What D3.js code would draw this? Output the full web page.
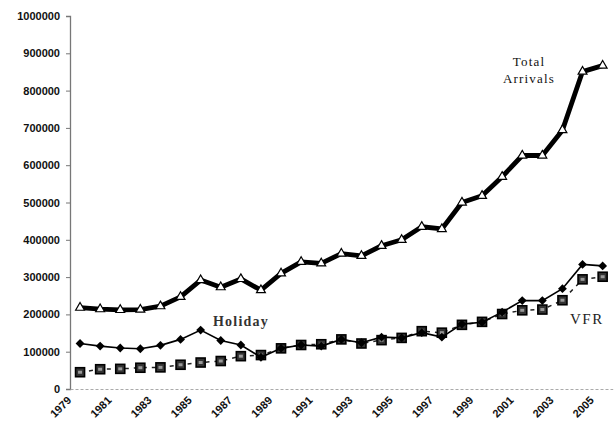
<!DOCTYPE html>
<html><head><meta charset="utf-8">
<script src="https://cdn.jsdelivr.net/npm/d3@7"></script>
<style>body{margin:0;background:#fff}svg{display:block}</style>
</head><body>
<script>
const years = d3.range(1979, 2006);
const totalArrivals = [218000,214000,212000,213000,222000,247000,292000,273000,295000,265000,310000,341000,337000,363000,357000,384000,400000,435000,429000,500000,518000,569000,626000,626000,694000,851000,867000];
const holiday = [122000,115000,110000,108000,117000,133000,158000,130000,118000,85000,109000,118000,115000,133000,124000,139000,137000,151000,139000,174000,179000,206000,237000,237000,269000,334000,330000];
const vfr = [45000,53000,54000,57000,58000,65000,71000,75000,88000,91000,109000,118000,120000,133000,122000,131000,137000,155000,151000,172000,180000,201000,211000,213000,238000,294000,301000];
const yTicks = [0,100000,200000,300000,400000,500000,600000,700000,800000,900000,1000000];
const xLabels = years.filter(y => (y - 1979) % 2 === 0);

const W = 614, H = 421;
const svg = d3.select("body").append("svg").attr("width", W).attr("height", H);

const x = d3.scaleBand().domain(years).range([70, 70 + 27 * 20.1]).padding(0);
const cx = d => x(d) + x.bandwidth() / 2;
const y = d3.scaleLinear().domain([0, 1000000]).range([389, 16]);

// Y axis
const yAxis = d3.axisLeft(y).tickValues(yTicks).tickSize(4).tickPadding(6).tickFormat(d3.format("d"));
const gy = svg.append("g").attr("transform", "translate(70,0)").call(yAxis);
gy.select(".domain").attr("stroke", "#777").attr("stroke-width", 1.3);
gy.selectAll(".tick line").attr("stroke", "#777");
gy.selectAll("text").attr("font-family", "Liberation Sans, Arial, sans-serif").attr("font-weight", "bold").attr("font-size", "11px").attr("fill", "#111");

// X axis
const xAxis = d3.axisBottom(x).tickValues(xLabels).tickSize(0).tickPadding(0);
const gx = svg.append("g").attr("transform", "translate(0,389)").call(xAxis);
gx.select(".domain").attr("stroke", "#aaa").attr("stroke-width", 1).attr("stroke-dasharray", "3,2");
gx.selectAll(".tick text")
  .attr("font-family", "Liberation Sans, Arial, sans-serif").attr("font-weight", "bold").attr("font-size", "11px").attr("fill", "#111")
  .attr("text-anchor", "end").attr("y", 0).attr("dy", 0)
  .attr("transform", "translate(-8,12) rotate(-45)");

const idx = years.map((d, i) => i);

// Total arrivals
const lineT = d3.line().x(i => cx(years[i])).y(i => y(totalArrivals[i]));
svg.append("path").attr("d", lineT(idx)).attr("fill", "none").attr("stroke", "#000").attr("stroke-width", 4.8).attr("stroke-linejoin", "round");
svg.selectAll(".tri").data(idx).enter().append("path")
  .attr("transform", i => `translate(${cx(years[i])},${y(totalArrivals[i])})`)
  .attr("d", d3.symbol().type(d3.symbolTriangle).size(34))
  .attr("fill", "#fff").attr("stroke", "#000").attr("stroke-width", 1.2);

// VFR
const lineV = d3.line().x(i => cx(years[i])).y(i => y(vfr[i]));
svg.append("path").attr("d", lineV(idx)).attr("fill", "none").attr("stroke", "#222").attr("stroke-width", 1.5).attr("stroke-dasharray", "4,5");
svg.selectAll(".sq").data(idx).enter().append("rect")
  .attr("x", i => cx(years[i]) - 4.5).attr("y", i => y(vfr[i]) - 4.5)
  .attr("width", 9).attr("height", 9)
  .attr("fill", "#333").attr("stroke", "#000").attr("stroke-width", 1.6);
svg.selectAll(".sqi").data(idx).enter().append("rect")
  .attr("x", i => cx(years[i]) - 2).attr("y", i => y(vfr[i]) - 1.5)
  .attr("width", 4).attr("height", 3)
  .attr("fill", "#999");

// Holiday
const lineH = d3.line().x(i => cx(years[i])).y(i => y(holiday[i]));
svg.append("path").attr("d", lineH(idx)).attr("fill", "none").attr("stroke", "#000").attr("stroke-width", 1.6);
svg.selectAll(".dia").data(idx).enter().append("path")
  .attr("transform", i => `translate(${cx(years[i])},${y(holiday[i])})`)
  .attr("d", d3.symbol().type(d3.symbolDiamond2).size(50))
  .attr("fill", "#000");

// Labels
const serif = "Liberation Serif, Times New Roman, serif";
const tl = svg.append("text").attr("font-family", serif).attr("font-size", "13px").attr("letter-spacing", "1.2px").attr("fill", "#111").attr("text-anchor", "middle");
tl.append("tspan").attr("x", 529).attr("y", 66).text("Total");
tl.append("tspan").attr("x", 529).attr("y", 83).text("Arrivals");
svg.append("text").attr("x", 213).attr("y", 326).attr("font-family", serif).attr("font-weight", "bold").attr("font-size", "14px").attr("letter-spacing", "1.2px").attr("fill", "#333").text("Holiday");
svg.append("text").attr("x", 570).attr("y", 324).attr("font-family", serif).attr("font-size", "15px").attr("letter-spacing", "1.5px").attr("fill", "#222").text("VFR");
</script>
</body></html>
